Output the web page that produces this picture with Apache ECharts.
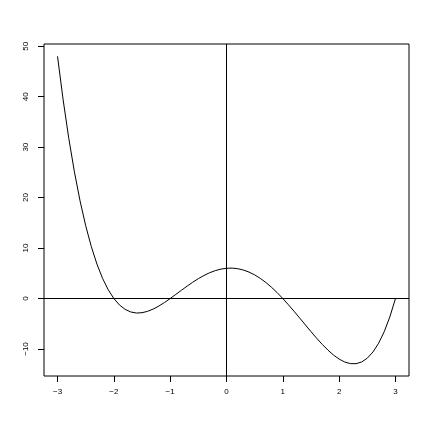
<!DOCTYPE html>
<html>
<head>
<meta charset="utf-8">
<script src="https://cdn.jsdelivr.net/npm/echarts@6/dist/echarts.min.js"></script>
<style>html,body{margin:0;padding:0;background:#fff;}#c{width:432px;height:432px;}</style>
</head>
<body>
<div id="c"></div>
<script>
var xValues = [-3.0,-2.9,-2.8,-2.7,-2.6,-2.5,-2.4,-2.3,-2.2,-2.1,-2.0,-1.9,-1.8,-1.7,-1.6,-1.5,-1.4,-1.3,-1.2,-1.1,-1.0,-0.9,-0.8,-0.7,-0.6,-0.5,-0.4,-0.3,-0.2,-0.1,0.0,0.1,0.2,0.3,0.4,0.5,0.6,0.7,0.8,0.9,1.0,1.1,1.2,1.3,1.4,1.5,1.6,1.7,1.8,1.9,2.0,2.1,2.2,2.3,2.4,2.5,2.6,2.7,2.8,2.9,3.0];
var yValues = [48.0,39.35,31.74,25.10,19.35,14.44,10.28,6.82,3.99,1.74,0.0,-1.28,-2.15,-2.66,-2.87,-2.81,-2.53,-2.08,-1.48,-0.78,0.0,0.82,1.64,2.45,3.23,3.94,4.57,5.11,5.53,5.83,6.0,6.03,5.91,5.65,5.24,4.69,3.99,3.17,2.22,1.16,0.0,-1.24,-2.53,-3.87,-5.22,-6.56,-7.86,-9.09,-10.21,-11.20,-12.0,-12.58,-12.90,-12.91,-12.57,-11.81,-10.60,-8.87,-6.57,-3.63,0.0];
var xTicks = [-3,-2,-1,0,1,2,3];
var yTicks = [-10,0,10,20,30,40,50];
var xRange = [-3.24, 3.24];
var yRange = [-15.35, 50.44];

function fmt(v){ return (v < 0 ? '\u2212' + Math.abs(v) : String(v)); }

var points = xValues.map(function(x, i){ return [x, yValues[i]]; });
var chart = echarts.init(document.getElementById('c'), null, {renderer:'canvas'});
var font = 'Liberation Sans, Arial, sans-serif';
chart.setOption({
  animation: false,
  backgroundColor: '#ffffff',
  grid: {left:44, right:23, top:44, bottom:56, show:true, borderColor:'#000', borderWidth:1, backgroundColor:'transparent'},
  xAxis: {
    type:'value', min:xRange[0], max:xRange[1], position:'bottom',
    axisLine:{show:false, onZero:false},
    splitLine:{show:false},
    axisTick:{show:true, length:6, customValues:xTicks, lineStyle:{color:'#000', width:1}},
    axisLabel:{show:true, customValues:xTicks, margin:12, color:'#000', fontSize:8, fontFamily:font, formatter:fmt}
  },
  yAxis: {
    type:'value', min:yRange[0], max:yRange[1], position:'left',
    axisLine:{show:false, onZero:false},
    splitLine:{show:false},
    axisTick:{show:true, length:6, customValues:yTicks, lineStyle:{color:'#000', width:1}},
    axisLabel:{show:true, customValues:yTicks, margin:14, rotate:90, color:'#000', fontSize:8, fontFamily:font, formatter:fmt}
  },
  series: [{
    type:'line', data:points, showSymbol:false, symbol:'none', smooth:false,
    lineStyle:{color:'#000', width:1}, silent:true,
    markLine:{silent:true, symbol:['none','none'], label:{show:false},
      lineStyle:{color:'#000', width:1, type:'solid'},
      data:[{yAxis:0},{xAxis:0}]}
  }]
});
</script>
</body>
</html>
